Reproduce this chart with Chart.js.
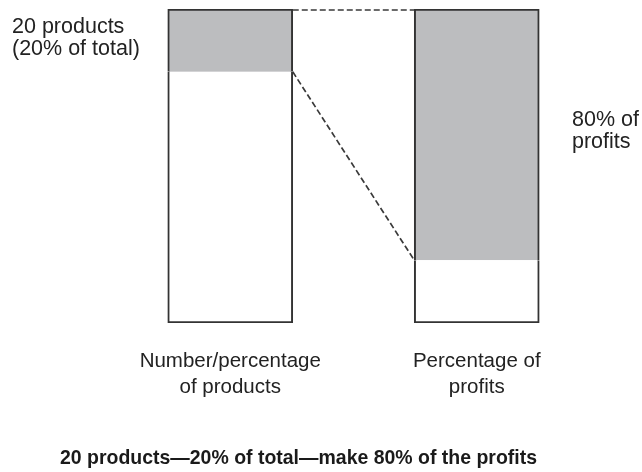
<!DOCTYPE html>
<html>
<head>
<meta charset="utf-8">
<script src="https://cdn.jsdelivr.net/npm/chart.js@4"></script>
<style>
html,body{margin:0;padding:0;background:#fff;}
canvas{display:block;}
</style>
</head>
<body>
<canvas id="c" width="642" height="472"></canvas>
<script>
const categories = [["Number/percentage", "of products"], ["Percentage of", "profits"]];
const restValues = [80, 20];      // white lower part of each bar (%)
const highlightValues = [20, 80]; // grey upper part of each bar (%)
const leftNote = ["20 products", "(20% of total)"];
const rightNote = ["80% of", "profits"];
const chartTitle = "20 products\u201420% of total\u2014make 80% of the profits";

const FONT = "'Liberation Sans', Arial, sans-serif";
const EDGE = '#333333';

const connectors = {
  id: 'connectors',
  afterDatasetsDraw(chart) {
    const meta = chart.getDatasetMeta(1);
    const a = meta.data[0], b = meta.data[1];
    const ctx = chart.ctx;
    ctx.save();
    ctx.strokeStyle = '#3a3a3a';
    ctx.lineWidth = 1.7;
    ctx.setLineDash([6, 3]);
    ctx.beginPath();
    ctx.moveTo(a.x + a.width / 2, a.y + 1);
    ctx.lineTo(b.x - b.width / 2, b.y + 1);
    ctx.stroke();
    ctx.beginPath();
    ctx.moveTo(a.x + a.width / 2, a.base);
    ctx.lineTo(b.x - b.width / 2, b.base);
    ctx.stroke();
    ctx.restore();
  }
};

const notes = {
  id: 'notes',
  afterDraw(chart) {
    const ctx = chart.ctx;
    ctx.save();
    ctx.fillStyle = '#222222';
    ctx.font = "21.5px " + FONT;
    ctx.textAlign = 'left';
    ctx.textBaseline = 'alphabetic';
    leftNote.forEach((t, i) => ctx.fillText(t, 12, 33 + i * 22));
    rightNote.forEach((t, i) => ctx.fillText(t, 572, 126 + i * 22));
    // bold condensed title
    ctx.font = "bold 21px " + FONT;
    ctx.fillStyle = '#1a1a1a';
    const w = ctx.measureText(chartTitle).width;
    const target = 477;
    const sx = target / w;
    ctx.translate(298.5, 464);
    ctx.scale(sx, 1);
    ctx.textAlign = 'center';
    ctx.fillText(chartTitle, 0, 0);
    ctx.restore();
  }
};

new Chart(document.getElementById('c'), {
  type: 'bar',
  data: {
    labels: categories,
    datasets: [
      {
        data: restValues,
        backgroundColor: '#ffffff',
        borderColor: EDGE,
        borderSkipped: false,
        borderWidth: {left: 2, right: 2, bottom: 2, top: 0}
      },
      {
        data: highlightValues,
        backgroundColor: '#bcbdbf',
        borderColor: EDGE,
        borderSkipped: false,
        borderWidth: {left: 2, right: 2, top: 2, bottom: 0}
      }
    ]
  },
  options: {
    responsive: false,
    animation: false,
    layout: {padding: {left: 107, right: 42, top: 9, bottom: 0}},
    plugins: {legend: {display: false}, tooltip: {enabled: false}, title: {display: false}},
    scales: {
      x: {
        stacked: true,
        grid: {display: false},
        border: {display: false},
        ticks: {
          color: '#222222',
          font: {family: FONT, size: 20.5, lineHeight: 1.27},
          padding: 17,
          maxRotation: 0
        },
        afterFit(scale) { scale.height = 149; }
      },
      y: {
        stacked: true,
        display: false,
        min: 0,
        max: 100
      }
    },
    datasets: {bar: {barThickness: 125}}
  },
  plugins: [connectors, notes]
});
</script>
</body>
</html>
